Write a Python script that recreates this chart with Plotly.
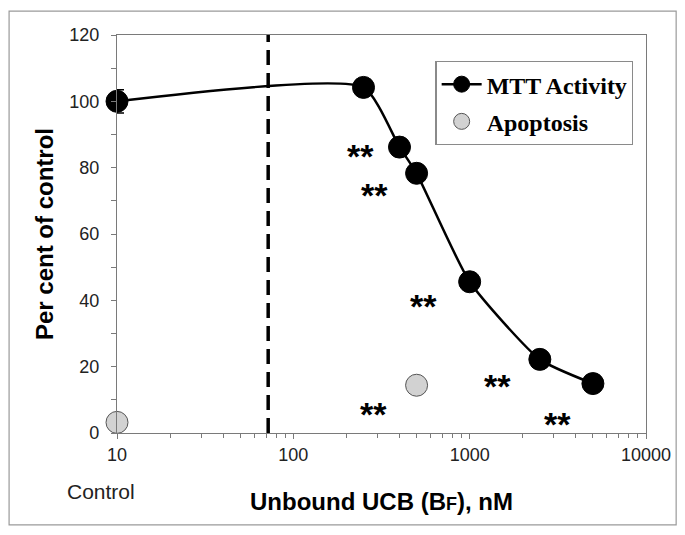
import math
import plotly.graph_objects as go

# ---- data ----
mtt_x = [10, 250, 400, 500, 1000, 2500, 5000]
mtt_y = [100, 104.2, 86.2, 78.3, 45.6, 22.2, 14.9]
mtt_err = [3.5, 0, 0, 0, 0, 0, 0]

apo_x = [10, 500]
apo_y = [3.2, 14.4]

cutoff_x = 72          # dashed vertical reference (nM)
axis_y_range = [0, 120]

star_x = [239, 287, 545, 285, 1429, 3133]
star_y = [85.0, 73.3, 39.8, 7.2, 15.8, 4.1]
star_text = ["**"] * 6

x_tickvals = [10, 100, 1000, 10000]
x_ticktext = ["10", "100", "1000", "10000"]
y_tickvals = [0, 20, 40, 60, 80, 100, 120]

SANS = "Liberation Sans, Arial, sans-serif"
SERIF = "Liberation Serif, Times New Roman, serif"

fig = go.Figure()

# dashed reference line
fig.add_trace(go.Scatter(
    x=[cutoff_x, cutoff_x], y=axis_y_range, mode="lines",
    line=dict(color="black", width=3.5, dash="15px,8px"),
    showlegend=False, hoverinfo="skip", cliponaxis=False))

fig.add_trace(go.Scatter(
    x=mtt_x, y=mtt_y, mode="lines+markers", name="MTT Activity",
    line=dict(color="black", width=2.5, shape="spline", smoothing=0.55),
    marker=dict(color="black", size=22, line=dict(color="black", width=1)),
    error_y=dict(type="data", array=mtt_err, visible=True, color="black",
                 thickness=1.5, width=7),
    legendgroup="a", cliponaxis=False))

fig.add_trace(go.Scatter(
    x=apo_x, y=apo_y, mode="markers", name="Apoptosis",
    marker=dict(color="#d2d2d2", size=22, line=dict(color="#555555", width=1)),
    legendgroup="b", cliponaxis=False))

# significance stars
for sx, sy, st in zip(star_x, star_y, star_text):
    fig.add_annotation(x=math.log10(sx), y=sy, xref="x", yref="y", text=st,
                       showarrow=False, yshift=-5,
                       font=dict(family=SANS, size=34, color="black", weight="bold"))

# "Control" label under the 10 tick
fig.add_annotation(x=-0.03, y=-0.146, xref="paper", yref="paper", text="Control",
                   showarrow=False, xanchor="center", yanchor="middle",
                   font=dict(family=SANS, size=21, color="#222"))

# outer frame
fig.add_shape(type="rect", xref="paper", yref="paper",
              x0=-0.204, x1=1.057, y0=-0.231, y1=1.060,
              line=dict(color="#9a9a9a", width=1.2), fillcolor="rgba(0,0,0,0)", layer="below")

fig.update_layout(
    width=685, height=535,
    margin=dict(l=109, r=47, t=27, b=110),
    paper_bgcolor="white", plot_bgcolor="white",
    showlegend=True,
    legend=dict(x=0.602, y=0.935, xanchor="left", yanchor="top",
                bgcolor="white", bordercolor="#8a8a8a", borderwidth=1.2,
                font=dict(family=SERIF, size=24, color="black", weight="bold"),
                traceorder="grouped", tracegroupgap=3,
                itemwidth=40),
    xaxis=dict(type="log", range=[1, 4], tickvals=x_tickvals, ticktext=x_ticktext,
               showgrid=False, zeroline=False,
               showline=True, linecolor="#7a7a7a", linewidth=1.2, mirror=True,
               ticks="outside", ticklen=5, tickcolor="#7a7a7a",
               minor=dict(ticks="outside", ticklen=4, tickcolor="#7a7a7a",
                          dtick="D1", showgrid=False),
               tickfont=dict(family=SANS, size=18, color="#222"),
               title=dict(text="Unbound UCB (B<span style='font-size:18px'>F</span>), nM",
                          font=dict(family=SANS, size=24, color="black", weight="bold"),
                          standoff=29)),
    yaxis=dict(range=axis_y_range, tickvals=y_tickvals,
               showgrid=False, zeroline=False,
               showline=True, linecolor="#7a7a7a", linewidth=1.2, mirror=True,
               ticks="outside", ticklen=5, tickcolor="#7a7a7a",
               minor=dict(ticks="outside", ticklen=5, tickcolor="#7a7a7a",
                          dtick=10, showgrid=False),
               ticklabelstandoff=8,
               tickfont=dict(family=SANS, size=18, color="#222"),
               title=dict(text="Per cent of control",
                          font=dict(family=SANS, size=24, color="black", weight="bold"),
                          standoff=8)),
)

fig.write_html("out.html")
